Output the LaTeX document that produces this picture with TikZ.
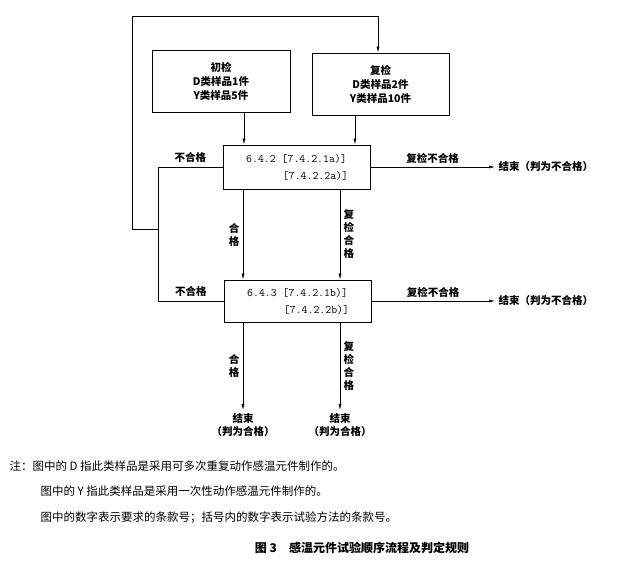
\documentclass[tikz,border=0pt]{standalone}
\usepackage{fontspec}
\setmainfont{Noto Sans CJK SC}
\newfontfamily\cjk{Noto Sans CJK SC}
\usetikzlibrary{positioning,arrows.meta}
\tikzset{
  box/.style={draw, thick, align=center, inner sep=0pt},
  flow/.style={-{Latex[length=6pt,width=3pt]}, semithick},
  lbl/.style={font=\fontsize{10.5}{13}\selectfont\bfseries},
  note/.style={anchor=west, font=\fontsize{11.5}{13}\selectfont}
}
\begin{document}
\begin{tikzpicture}[x=1pt, y=-1pt]
        \useasboundingbox (0,0) rectangle (628,566);
        % sample boxes
        \node[box, minimum width=138pt, minimum height=62pt, font=\fontsize{10.5}{14}\selectfont\bfseries] (first) at (221,81) {初检\\D类样品1件\\Y类样品5件};
        \node[box, minimum width=137pt, minimum height=62pt, font=\fontsize{10.5}{14}\selectfont\bfseries] (second) at (380.5,84) {复检\\D类样品2件\\Y类样品10件};

        % test boxes
        \node[box, minimum width=147pt, minimum height=44pt, font=\ttfamily\fontsize{11.5}{17}\selectfont] (testA) at (296.5,167) {6.4.2 [7.4.2.1a)]\\\hspace*{38pt}[7.4.2.2a)]};
        \node[box, minimum width=147pt, minimum height=42pt, font=\ttfamily\fontsize{11.5}{17}\selectfont] (testB) at (297.5,301) {6.4.3 [7.4.2.1b)]\\\hspace*{38pt}[7.4.2.2b)]};

        % end texts
        \node[lbl, anchor=west] (failA) at (495,167) {结束（判为不合格）};
        \node[lbl, anchor=west] (failB) at (495,301) {结束（判为不合格）};
        \node[lbl, align=center, anchor=north] (passA) at (243,410) {结束\\（判为合格）};
        \node[lbl, align=center, anchor=north] (passB) at (340,410) {结束\\（判为合格）};

        % helper points
        \coordinate (jn) at (158,229);
        \coordinate (loopL) at (132,16);

        % arrows
        \draw[flow] (first.south -| 244,0) -- (testA.north -| 244,0);
        \draw[flow] (second.south -| 355,0) -- (testA.north -| 355,0);
        \draw[flow] (testA.south -| 243,0) -- node[lbl, left, align=center] {合\\格} (testB.north -| 243,0);
        \draw[flow] (testA.south -| 340,0) -- node[lbl, right, align=center] {复\\检\\合\\格} (testB.north -| 340,0);
        \draw[flow] (testB.south -| 243,0) -- node[lbl, left, align=center] {合\\格} (passA.north);
        \draw[flow] (testB.south -| 340,0) -- node[lbl, right, align=center] {复\\检\\合\\格} (passB.north);
        \draw[flow] (testA.east) -- node[lbl, above] {复检不合格} (failA.west);
        \draw[flow] (testB.east) -- node[lbl, above] {复检不合格} (failB.west);

        % fail loop
        \draw[semithick] (testA.west) -- node[lbl, above=1pt] {不合格} (testA.west -| jn) -- (testB.west -| jn) -- node[lbl, above=1pt] {不合格} (testB.west);
        \draw[flow] (jn) -- (jn -| loopL) -- (loopL) -- (loopL -| 378,0) -- (second.north -| 378,0);

        % notes
        \node[note] (n1) at (6,466) {注：图中的 D 指此类样品是采用可多次重复动作感温元件制作的。};
        \node[note] (n2) at (37,491) {图中的 Y 指此类样品是采用一次性动作感温元件制作的。};
        \node[note] (n3) at (37,518) {图中的数字表示要求的条款号；括号内的数字表示试验方法的条款号。};
        \node[font=\fontsize{12}{14}\selectfont\bfseries] (cap) at (362,548) {图 3\quad 感温元件试验顺序流程及判定规则};
    \end{tikzpicture}
\end{document}
